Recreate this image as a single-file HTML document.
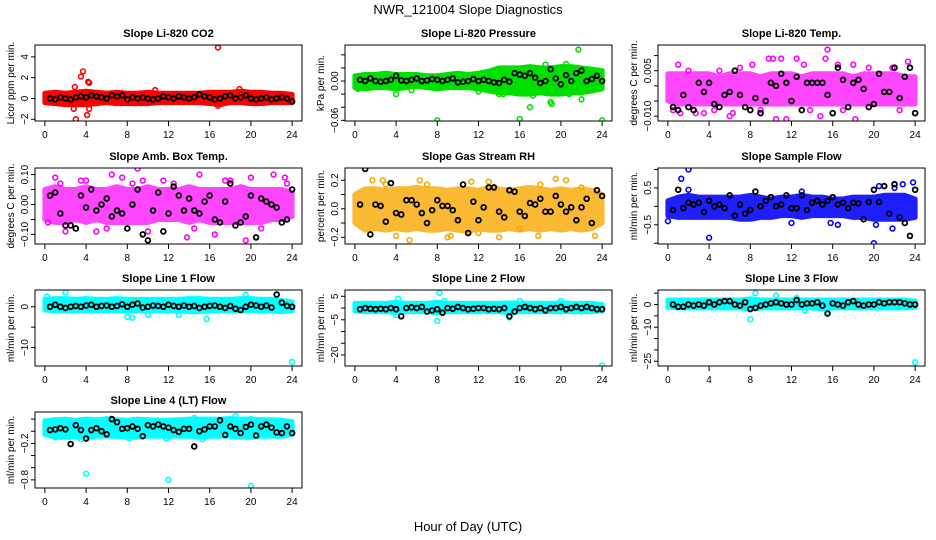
<!DOCTYPE html>
<html><head><meta charset="utf-8"><style>
body{margin:0;background:#fff}
svg{display:block;font-family:"Liberation Sans",sans-serif}
</style></head><body>
<svg id="c" width="936" height="540" viewBox="0 0 936 540">
<text x="468" y="14" text-anchor="middle" font-size="13">NWR_121004  Slope Diagnostics</text>
<text x="468" y="531" text-anchor="middle" font-size="13">Hour of Day (UTC)</text>
</svg>
<script>
const hours=[0,1,2,3,4,5,6,7,8,9,10,11,12,13,14,15,16,17,18,19,20,21,22,23,24];
const blackHours=[0.5,1,1.5,2,2.5,3,3.5,4,4.5,5,5.5,6,6.5,7,7.5,8,8.5,9,9.5,10,10.5,11,11.5,12,12.5,13,13.5,14,14.5,15,15.5,16,16.5,17,17.5,18,18.5,19,19.5,20,20.5,21,21.5,22,22.5,23,23.5,24];
const xTicks=[0,4,8,12,16,20,24];

const co2Hi=[0.5,0.6,0.5,0.6,0.7,0.6,0.5,0.6,0.5,0.5,0.6,0.5,0.5,0.5,0.5,0.5,0.6,0.6,0.6,0.7,0.6,0.6,0.5,0.5,0.4];
const co2Lo=[-0.4,-0.5,-0.6,-0.6,-0.6,-0.5,-0.4,-0.5,-0.5,-0.5,-0.5,-0.4,-0.4,-0.4,-0.4,-0.4,-0.5,-0.6,-0.4,-0.4,-0.5,-0.5,-0.4,-0.4,-0.4];
const co2OutX=[2.9,2.8,3.0,3.5,3.7,4.2,4.3,4.1,4.3,16.8,16.8,10.7,18.9];
const co2OutY=[1.1,-1.0,-2.0,2.1,2.6,1.6,1.5,-1.6,-1.0,4.9,-0.7,0.8,0.9];
const co2Black=[0,-0.1,0.1,0,-0.1,0.1,0.2,0.1,0.3,0.2,0.1,0,0.3,0.2,0.3,-0.1,0.1,0,0.1,0,-0.1,0,0.2,0.1,0,0.2,0.1,0,0.1,0.4,0.2,0.1,-0.1,0,0.2,0.3,0,0.1,0.3,0,-0.1,0,0.1,-0.1,0,0.1,0,-0.3];

const presHi=[0.008,0.01,0.01,0.012,0.01,0.01,0.01,0.008,0.008,0.01,0.012,0.01,0.012,0.015,0.02,0.02,0.02,0.022,0.02,0.02,0.022,0.022,0.02,0.018,0.016];
const presLo=[-0.01,-0.012,-0.01,-0.01,-0.012,-0.01,-0.008,-0.01,-0.012,-0.01,-0.01,-0.01,-0.012,-0.015,-0.018,-0.018,-0.02,-0.02,-0.018,-0.02,-0.02,-0.018,-0.018,-0.015,-0.012];
const presOutX=[4,8,16,17,17.3,19,19.1,20.8,21.7,22,24,14,14.4,5.5,12,18.5,20.5,0.3];
const presOutY=[-0.02,-0.06,-0.058,-0.04,-0.022,-0.032,-0.035,-0.02,0.048,-0.028,-0.06,-0.02,-0.02,-0.014,-0.016,0.025,0.026,-0.012];
const presBlack=[0.002,0,0.004,0,-0.001,0,0.002,0.008,0.001,0,0.002,0.004,0,0.001,0.003,0.002,0,0.002,0.004,-0.002,-0.001,0,0.003,0,0.002,0,-0.002,-0.003,0.002,-0.001,0.012,0.01,0.008,0.012,0.005,-0.003,0,0.018,0.004,-0.005,0.009,0,0.012,0.016,0,0.003,0.008,0];

const tempHi=[0.004,0.004,0.004,0.004,0.004,0.003,0.004,0.004,0.004,0.003,0.004,0.004,0.004,0.003,0.004,0.004,0.004,0.004,0.003,0.004,0.004,0.004,0.004,0.003,0.003];
const tempLo=[-0.005,-0.006,-0.006,-0.006,-0.006,-0.006,-0.006,-0.006,-0.006,-0.006,-0.006,-0.006,-0.006,-0.006,-0.006,-0.006,-0.006,-0.006,-0.006,-0.006,-0.006,-0.006,-0.006,-0.006,-0.006];
const tempOutX=[1,2.7,3.5,6,7,8.2,9.8,10.5,11.5,11,12.5,13.2,15.5,15.3,14.8,16.5,18.2,18,21.8,23.3,0.5,1.2,10.2,4.5,6.3,2,5,9,13.8,17,19.5,22.5];
const tempOutY=[0.007,-0.009,-0.009,-0.01,0.006,0.007,0.009,-0.011,-0.011,0.009,0.009,0.007,0.012,0.009,-0.01,0.007,-0.011,0.007,0.006,0.008,-0.008,-0.009,0.009,-0.008,-0.009,0.005,0.005,-0.008,-0.008,-0.008,0.006,-0.008];
const tempBlack=[-0.007,-0.008,-0.003,-0.007,-0.008,0.001,-0.002,0.001,-0.006,-0.007,-0.003,-0.002,0.005,-0.003,-0.007,-0.008,-0.004,-0.009,-0.005,0.001,0,0.004,0.001,-0.005,0.003,-0.008,0.001,0.001,0.001,0.001,-0.003,-0.009,0.006,0.002,-0.007,0.001,0.002,-0.001,-0.007,-0.006,0.004,-0.002,-0.002,0.006,-0.004,0.003,0.006,-0.009];

const ambHi=[0.05,0.06,0.05,0.05,0.06,0.05,0.05,0.06,0.05,0.05,0.06,0.05,0.05,0.05,0.06,0.05,0.05,0.05,0.05,0.06,0.05,0.05,0.05,0.05,0.04];
const ambLo=[-0.05,-0.06,-0.06,-0.05,-0.06,-0.05,-0.06,-0.06,-0.06,-0.06,-0.06,-0.05,-0.05,-0.05,-0.06,-0.05,-0.06,-0.06,-0.06,-0.06,-0.06,-0.06,-0.05,-0.05,-0.04];
const ambOutX=[1,2,3.5,4,6.5,7.5,9,9.5,10,11.5,13.8,15,16.5,17.5,19.5,20,22,22.2,23.3,0.3,5,3,1.5,6,8.5,12.5,14.5,18,21,23.5];
const ambOutY=[0.09,-0.09,0.08,0.08,0.1,0.09,0.12,0.08,-0.09,0.08,-0.11,0.1,-0.1,0.08,-0.12,0.09,-0.14,0.1,0.09,-0.06,-0.09,-0.08,0.07,-0.08,0.07,0.07,-0.08,0.08,-0.08,0.07];
const ambBlack=[0.03,0.04,-0.03,-0.07,-0.07,-0.08,0.03,-0.01,0.05,-0.02,0,0.02,-0.04,-0.02,-0.03,-0.08,0,0.05,-0.1,-0.12,-0.02,0.04,-0.09,-0.03,0.06,0.03,-0.02,0.02,-0.02,-0.03,0.01,0.03,-0.05,-0.06,0.01,0.07,-0.07,-0.06,-0.04,0.03,-0.11,0.02,0.01,0,-0.01,-0.06,-0.05,0.05];

const rhHi=[0.1,0.14,0.14,0.13,0.14,0.14,0.15,0.14,0.14,0.13,0.14,0.14,0.13,0.15,0.14,0.13,0.14,0.15,0.14,0.13,0.14,0.13,0.14,0.13,0.1];
const rhLo=[-0.1,-0.15,-0.14,-0.15,-0.14,-0.15,-0.14,-0.15,-0.15,-0.14,-0.15,-0.16,-0.14,-0.15,-0.15,-0.14,-0.15,-0.14,-0.15,-0.14,-0.15,-0.14,-0.15,-0.14,-0.1];
const rhOutX=[1.7,2.7,4,5.3,6.3,9.3,11.3,14,16,17.8,19.5,20.5,23.3,9,13,3,7,12,18,22];
const rhOutY=[0.2,0.2,-0.19,-0.22,0.2,-0.19,0.19,-0.2,-0.14,-0.19,0.21,0.2,-0.19,-0.2,0.19,0.17,0.17,-0.17,0.17,0.15];
const rhBlack=[0.03,0.28,-0.18,0.03,0.02,-0.09,0.18,-0.03,-0.04,0.06,0.06,0.03,-0.03,-0.1,-0.01,0.06,0.02,0.02,-0.01,-0.08,0.17,-0.17,0.05,-0.08,0.01,0.15,0.15,-0.02,-0.06,0.13,0.12,-0.02,-0.05,0.04,0.03,0.07,-0.02,-0.02,0.09,0.03,-0.02,0.01,-0.08,0.01,0.07,-0.1,0.13,0.09];

const sfHi=[0.15,0.25,0.3,0.25,0.25,0.25,0.25,0.25,0.3,0.25,0.2,0.25,0.25,0.3,0.25,0.25,0.2,0.2,0.25,0.25,0.25,0.3,0.3,0.3,0.2];
const sfLo=[-0.25,-0.3,-0.3,-0.3,-0.3,-0.3,-0.3,-0.35,-0.35,-0.3,-0.3,-0.25,-0.25,-0.3,-0.25,-0.25,-0.25,-0.25,-0.3,-0.3,-0.35,-0.35,-0.35,-0.35,-0.3];
const sfOutX=[1.3,2,2,0,4,20,22.8,23.8,20.5,21,15.8,16.5,12,20.2,21.8,22,13];
const sfOutY=[0.75,1.0,0.45,-0.4,-0.85,-1.0,0.6,0.65,0.55,0.55,-0.45,-0.5,-0.45,-0.5,-0.6,0.5,0.4];
const sfBlack=[-0.1,0.45,-0.05,0.1,0.05,0.1,-0.15,0.15,0,0.05,-0.05,0.3,-0.25,0.05,-0.2,-0.1,0.4,0,0.15,0.25,0,0.05,0.3,-0.05,-0.05,0.3,-0.1,0.1,0.15,0.05,0.15,0.25,0.05,0.1,-0.05,0.1,0.08,-0.35,0.12,0.45,0.12,0.55,-0.2,0.6,-0.3,-0.45,-0.8,0.45];

const l1Hi=[1.8,2,2,1.8,2,1.8,1.8,2,1.8,1.8,1.8,1.8,1.8,1.8,2,2,1.8,1.8,1.8,2,2,1.8,1.8,1.5,1.2];
const l1Lo=[-0.8,-1,-1,-1,-1,-1,-1,-1,-1,-1,-1,-1,-1,-1,-1.2,-1.2,-1,-1,-1,-1,-1,-1,-1,-1.2,-1];
const l1OutX=[2,8,8.5,24,15.7,13,10,19.5,0.2];
const l1OutY=[3.5,-2.5,-2.7,-13.5,-3,-2,-2,3,2.5];
const l1Black=[0,0.5,0,-0.3,0,0.2,0,0.3,0.5,0,0.2,0.3,0,0.2,0.6,0,0.5,0.8,-0.2,0,0.3,0.2,0,0.5,0.2,0,0.3,0,0.2,-0.3,0,0.2,0.3,0,-0.3,0.2,-0.5,-0.8,0,0.5,0.3,0,0.3,-0.2,3,1,0.2,0];

const l2Hi=[2,2,2,2,2.5,2,2,2,2.5,2,2,2,2,2,2,2.2,2,2,2,2,2.2,2,2,2,1.5];
const l2Lo=[-1.2,-1.5,-1.5,-1.5,-2,-1.5,-1.5,-1.5,-2,-1.5,-1.5,-1.5,-1.5,-1.5,-1.5,-2,-1.5,-1.5,-1.5,-1.5,-1.5,-1.5,-1.5,-1.5,-1.2];
const l2OutX=[8.2,8,4,24,15,4.2,8.7,16,20];
const l2OutY=[6.5,-5.5,-3,-24.5,-4,4,3,3,3];
const l2Black=[-0.5,0,-0.3,-0.5,-0.3,-0.5,0,-0.5,-3.5,0,0.3,0,0.5,-1.5,-1,-0.5,-2,0,-0.3,0.5,0,-0.5,-0.3,0,0,-0.5,-0.3,-0.5,0,-3.5,-1.5,0,0.5,0,-0.5,0,-1,0,0,0.5,-0.5,0,0.5,0,0.5,0,-0.5,-0.5];

const l3Hi=[2,2,2,2,2,2,2,2,2.5,2,2,2,2,2,2,2,2,2,2,2,2,2,2,2,1.5];
const l3Lo=[-1.2,-1.5,-1.5,-1.5,-1.5,-1.5,-1.5,-1.5,-2,-1.5,-1.5,-1.5,-1.5,-1.5,-1.5,-2,-1.5,-1.5,-1.5,-1.5,-1.5,-1.5,-1.5,-1.5,-1.2];
const l3OutX=[8,8.5,24,10.5,15.5,12.5,13.3];
const l3OutY=[-6.5,5,-25.5,4,-3.5,3,-2.5];
const l3Black=[0,-1,-1,0,-0.5,0,-0.5,1,0,1,1.5,1.5,0,-0.5,1,-2,-1.5,-0.5,0,0.5,1,0.5,0,0,2,0,0.5,0.5,1,-0.5,-4,0.5,0,-0.5,1,1.5,0,-0.5,0,0,1,0.5,1,1,1,0.5,0,0];

const l4Hi=[0.17,0.19,0.2,0.18,0.2,0.19,0.2,0.19,0.18,0.2,0.19,0.18,0.18,0.19,0.2,0.2,0.2,0.2,0.21,0.2,0.2,0.19,0.19,0.18,0.16];
const l4Lo=[-0.05,-0.1,-0.1,-0.1,-0.1,-0.08,-0.08,-0.08,-0.1,-0.1,-0.08,-0.08,-0.08,-0.08,-0.08,-0.1,-0.08,-0.08,-0.08,-0.1,-0.1,-0.08,-0.08,-0.08,-0.05];
const l4OutX=[4,12,20,6,18.5,1,3.5,8.2,15.3,11.8,20,22.5,14.5];
const l4OutY=[-0.7,-0.8,-0.9,0.2,0.25,-0.1,-0.13,-0.12,-0.13,-0.12,0.2,0.18,0.22];
const l4Black=[0.02,0.03,0.05,0.03,-0.21,0.1,0.02,-0.12,0.02,0.05,0,-0.05,0.2,0.15,0.04,0.05,0.08,0.04,-0.08,0.1,0.08,0.11,0.08,0.06,0.02,-0.01,0.04,0.04,-0.25,0,0.03,0.08,0.08,0.18,-0.06,0.08,0.04,-0.03,0.07,0.11,-0.07,0.08,0.11,0.06,-0.02,-0.03,0.08,-0.03];

const svg=document.getElementById('c');
const NS='http://www.w3.org/2000/svg';
function mk(tag,attrs,parent){const e=document.createElementNS(NS,tag);for(const k in attrs)e.setAttribute(k,attrs[k]);(parent||svg).appendChild(e);return e;}

const colLeft=[35,345,658],colW=267;
const rowTop=[45,168,290,412],rowH=76;

const panels=[
 {id:'co2',title:'Slope Li-820 CO2',ylab:'Licor ppm per min.',c:0,r:0,lo:-2.17,hi:5.14,ticks:[-2,0,2,4],labs:['−2','0','2','4'],col:'#ff0000',op:1,bh:co2Hi,bl:co2Lo,ox:co2OutX,oy:co2OutY,bk:co2Black},
 {id:'pressure',title:'Slope Li-820 Pressure',ylab:'kPa per min.',c:1,r:0,lo:-0.061,hi:0.055,ticks:[-0.06,-0.04,-0.02,0,0.02,0.04],labs:['−0.06','','','0.00','',''],col:'#00e000',op:1,bh:presHi,bl:presLo,ox:presOutX,oy:presOutY,bk:presBlack},
 {id:'temp',title:'Slope Li-820 Temp.',ylab:'degrees C per min.',c:2,r:0,lo:-0.0116,hi:0.0135,ticks:[-0.01,-0.005,0,0.005,0.01],labs:['−0.010','','','0.005',''],col:'#ff00ff',op:0.72,bh:tempHi,bl:tempLo,ox:tempOutX,oy:tempOutY,bk:tempBlack},
 {id:'ambtemp',title:'Slope Amb. Box Temp.',ylab:'degrees C per min.',c:0,r:1,lo:-0.132,hi:0.122,ticks:[-0.1,-0.05,0,0.05,0.1],labs:['−0.10','','0.00','','0.10'],col:'#ff00ff',op:0.72,bh:ambHi,bl:ambLo,ox:ambOutX,oy:ambOutY,bk:ambBlack},
 {id:'rh',title:'Slope Gas Stream RH',ylab:'percent per min.',c:1,r:1,lo:-0.247,hi:0.286,ticks:[-0.2,-0.1,0,0.1,0.2],labs:['−0.2','','0.0','','0.2'],col:'#f8a800',op:0.8,bh:rhHi,bl:rhLo,ox:rhOutX,oy:rhOutY,bk:rhBlack},
 {id:'sampleflow',title:'Slope Sample Flow',ylab:'ml/min per min.',c:2,r:1,lo:-1.02,hi:1.04,ticks:[-1,-0.5,0,0.5,1],labs:['','−0.5','','0.5',''],col:'#0000ff',op:0.88,bh:sfHi,bl:sfLo,ox:sfOutX,oy:sfOutY,bk:sfBlack},
 {id:'line1',title:'Slope Line 1 Flow',ylab:'ml/min per min.',c:0,r:2,lo:-14.5,hi:4.1,ticks:[-10,-5,0],labs:['−10','','0'],col:'#00ffff',op:1,bh:l1Hi,bl:l1Lo,ox:l1OutX,oy:l1OutY,bk:l1Black},
 {id:'line2',title:'Slope Line 2 Flow',ylab:'ml/min per min.',c:1,r:2,lo:-24.7,hi:7.7,ticks:[-20,-15,-10,-5,0,5],labs:['−20','','','−5','','5'],col:'#00ffff',op:1,bh:l2Hi,bl:l2Lo,ox:l2OutX,oy:l2OutY,bk:l2Black},
 {id:'line3',title:'Slope Line 3 Flow',ylab:'ml/min per min.',c:2,r:2,lo:-27.1,hi:6.4,ticks:[-25,-20,-15,-10,-5,0,5],labs:['−25','','','−10','','0',''],col:'#00ffff',op:1,bh:l3Hi,bl:l3Lo,ox:l3OutX,oy:l3OutY,bk:l3Black},
 {id:'line4',title:'Slope Line 4 (LT) Flow',ylab:'ml/min per min.',c:0,r:3,lo:-0.934,hi:0.317,ticks:[-0.8,-0.6,-0.4,-0.2,0,0.2],labs:['−0.8','','','−0.2','',''],col:'#00ffff',op:1,bh:l4Hi,bl:l4Lo,ox:l4OutX,oy:l4OutY,bk:l4Black}
];

panels.forEach(p=>{
 const L=colLeft[p.c],T=rowTop[p.r],W=colW,H=rowH;
 const pad=W*0.04/1.08;
 const xs=v=>L+pad+(W-2*pad)*v/24;
 const ys=v=>T+H-(v-p.lo)/(p.hi-p.lo)*H;
 const g=mk('g',{});
 
 
 const t=mk('text',{x:L+W/2,y:T-8,'text-anchor':'middle','font-size':11,'font-weight':'bold'},g);
 t.textContent=p.title;
 
 
 const clip=mk('clipPath',{id:'cp'+p.id},g);
 mk('rect',{x:L,y:T,width:W,height:H},clip);
 const plot=mk('g',{'clip-path':'url(#cp'+p.id+')'},g);
 let d='';
 hours.forEach((h,i)=>{d+=(i?'L':'M')+xs(h).toFixed(1)+','+ys(p.bh[i]).toFixed(1);});
 for(let i=hours.length-1;i>=0;i--)d+='L'+xs(hours[i]).toFixed(1)+','+ys(p.bl[i]).toFixed(1);
 const band=mk('path',{d:d+'Z',fill:p.col,stroke:p.col,'stroke-width':5,'stroke-linejoin':'round',opacity:p.op},plot);
 
 
 p.ox.forEach((x,i)=>{
  const c=mk('circle',{cx:xs(x),cy:ys(p.oy[i]),r:2.4,fill:'none',stroke:p.col,'stroke-width':1.6},plot);
  
  
 });
 blackHours.forEach((x,i)=>{
  const c=mk('circle',{cx:xs(x),cy:ys(p.bk[i]),r:2.4,fill:'none',stroke:'#000','stroke-width':1.8},plot);
  
  
 });
 const box=mk('rect',{x:L,y:T,width:W,height:H,fill:'none',stroke:'#000','stroke-width':1},g);
 
 
 xTicks.forEach(v=>{
  mk('line',{x1:xs(v),x2:xs(v),y1:T+H,y2:T+H+5,stroke:'#000'},g);
  const tl=mk('text',{x:xs(v),y:T+H+17,'text-anchor':'middle','font-size':10},g);
  tl.textContent=v;
  
  
 });
 p.ticks.forEach((v,i)=>{
  const y=ys(v);
  mk('line',{x1:L-4,x2:L,y1:y,y2:y,stroke:'#000'},g);
  if(p.labs[i]){
   const tl=mk('text',{x:L-7,y:y,'text-anchor':'middle','font-size':10,transform:'rotate(-90 '+(L-7)+' '+y+')'},g);
   tl.textContent=p.labs[i];
   
   
  }
 });
 const yl=mk('text',{x:L-21,y:T+H/2,'text-anchor':'middle','font-size':10,transform:'rotate(-90 '+(L-21)+' '+(T+H/2)+')'},g);
 yl.textContent=p.ylab;
 
 
});
</script>
</body></html>
